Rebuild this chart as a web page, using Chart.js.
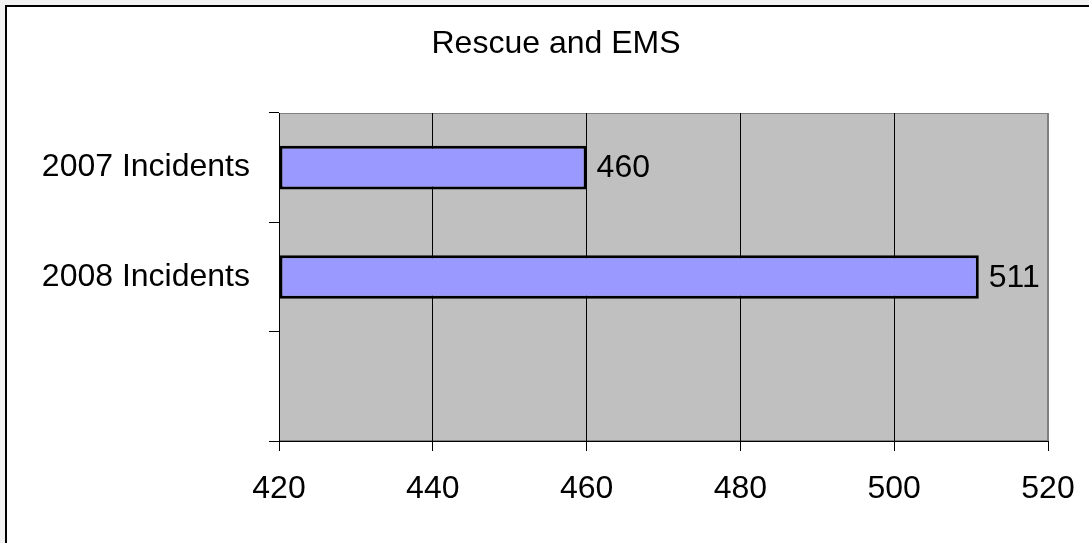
<!DOCTYPE html>
<html>
<head>
<meta charset="utf-8">
<script src="https://cdn.jsdelivr.net/npm/chart.js@4/dist/chart.umd.min.js"></script>
<style>
  html, body { margin: 0; padding: 0; width: 1089px; height: 543px; overflow: hidden; background: #f2f2f2; }
  #frame { position: absolute; left: 5px; top: 5px; width: 1110px; height: 560px; background: #fff;
           border-top: 2px solid #000; border-left: 2px solid #000; }
  #wrap { position: absolute; left: 7px; top: 7px; width: 1098px; height: 536px; }
</style>
</head>
<body>
<div id="frame"></div>
<div id="wrap"><canvas id="bar-chart"></canvas></div>
<script>
// Data
const chartTitle = "Rescue and EMS";
const categories = ["2007 Incidents", "2008 Incidents", ""];
const incidents = [460, 511, null];
const xMin = 420;
const xMax = 520;
const xStep = 20;

const FONT = "'Liberation Sans', Arial, sans-serif";

// grey plot area, title (centred on the whole frame, not the plot) and value labels
const plotArea = {
  id: "plotArea",
  beforeDraw(chart) {
    const { ctx, chartArea: a } = chart;
    ctx.save();
    ctx.fillStyle = "#C0C0C0";
    ctx.fillRect(a.left, a.top, a.right - a.left, a.bottom - a.top);
    ctx.strokeStyle = "#808080";
    ctx.lineWidth = 1;
    ctx.strokeRect(a.left + 0.5, a.top + 0.5, a.right - a.left - 1, a.bottom - a.top - 1);

    ctx.font = "32px " + FONT;
    ctx.fillStyle = "#000";
    ctx.textAlign = "center";
    ctx.textBaseline = "middle";
    ctx.fillText(chartTitle, chart.width / 2, 37);
    ctx.restore();
  },
  afterDatasetsDraw(chart) {
    const { ctx } = chart;
    const meta = chart.getDatasetMeta(0);
    ctx.save();
    ctx.font = "32px " + FONT;
    ctx.fillStyle = "#000";
    ctx.textBaseline = "middle";
    meta.data.forEach((bar, i) => {
      if (incidents[i] == null) return;
      ctx.fillText(String(incidents[i]), bar.x + 10, bar.y + 1);
    });
    ctx.restore();
  },
};

const ctx = document.getElementById("bar-chart");

new Chart(ctx, {
  type: "bar",
  data: {
    labels: categories,
    datasets: [
      {
        label: chartTitle,
        data: incidents,
        base: xMin,
        backgroundColor: "#9999FF",
        borderColor: "#000000",
        borderWidth: 3,
        borderSkipped: false,
        categoryPercentage: 1,
        barPercentage: 0.4,
      },
    ],
  },
  options: {
    indexAxis: "y",
    responsive: true,
    maintainAspectRatio: false,
    animation: false,
    layout: { padding: { top: 106, left: 0, right: 57, bottom: 0 } },
    plugins: {
      legend: { display: false },
      tooltip: { enabled: false },
      title: { display: false },
    },
    scales: {
      x: {
        min: xMin,
        max: xMax,
        afterFit(scale) { scale.height = 102; },
        ticks: {
          stepSize: xStep,
          color: "#000",
          padding: 19,
          font: { family: FONT, size: 32 },
        },
        grid: {
          color: (c) => (c.index === 5 ? "#808080" : "#000000"),
          tickColor: "#000000",
          lineWidth: 1,
          tickLength: 10,
        },
        border: { display: true, color: "#000", width: 1 },
      },
      y: {
        afterFit(scale) { scale.width = 272; },
        ticks: {
          color: "#000",
          padding: 19,
          font: { family: FONT, size: 32 },
        },
        grid: {
          offset: true,
          drawOnChartArea: false,
          color: "#000",
          tickLength: 10,
        },
        border: { display: true, color: "#000", width: 1 },
      },
    },
  },
  plugins: [plotArea],
});
</script>
</body>
</html>
